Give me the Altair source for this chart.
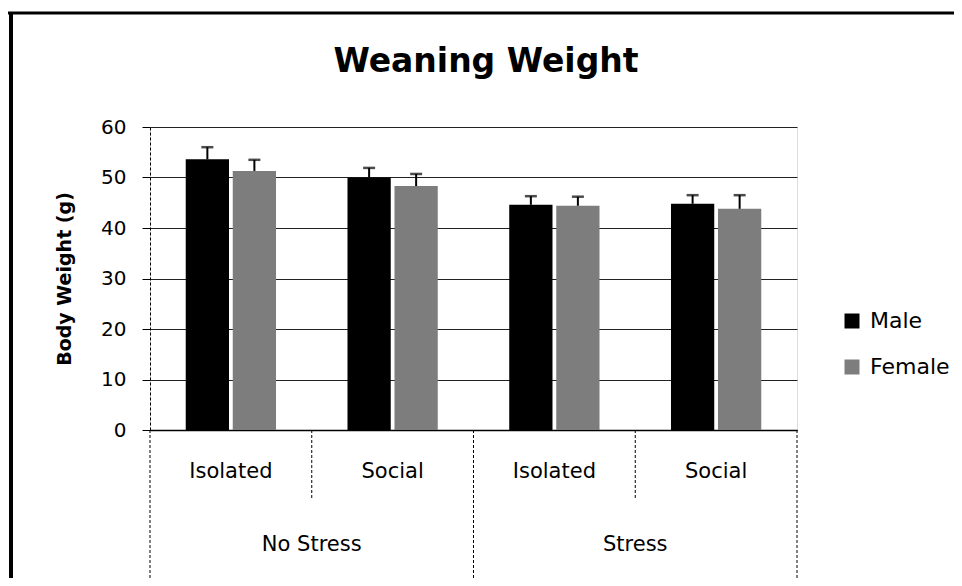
import altair as alt
import pandas as pd

# ---- data ----
stress = ["No Stress", "No Stress", "Stress", "Stress"]
housing = ["Isolated", "Social", "Isolated", "Social"]
male_mean = [53.6, 50.0, 44.6, 44.8]
male_err = [2.4, 1.9, 1.7, 1.7]
female_mean = [51.3, 48.3, 44.4, 43.8]
female_err = [2.2, 2.4, 1.8, 2.7]
sexes = ["Male", "Female"]
y_ticks = [0, 10, 20, 30, 40, 50, 60]
chart_title = ["Weaning Weight"]

conds = [f"{s}|{h}" for s, h in zip(stress, housing)]
rows = []
for i, c in enumerate(conds):
    rows.append({"cond": c, "sex": "Male", "mean": male_mean[i], "upper": male_mean[i] + male_err[i]})
    rows.append({"cond": c, "sex": "Female", "mean": female_mean[i], "upper": female_mean[i] + female_err[i]})
df = pd.DataFrame(rows)
labels_df = pd.DataFrame({"cond": conds, "housing": housing})
stress_df = pd.DataFrame({"cond": [conds[1], conds[3]], "stress": ["No Stress", "Stress"]})
long_df = pd.DataFrame({"cond": [conds[0], conds[2]]})
short_df = pd.DataFrame({"cond": [conds[1], conds[3]]})
end_df = pd.DataFrame({"cond": [conds[3]]})
title_df = pd.DataFrame({"t": chart_title})
dummy = pd.DataFrame({"a": [0]})

FONT = "DejaVu Sans"
W, H = 647, 303

xscale = alt.Scale(domain=conds, paddingInner=0, paddingOuter=0)
xenc = alt.X("cond:N", scale=xscale, axis=alt.Axis(labels=False, ticks=False, title=None,
                                                  domainColor="black", domainWidth=1.5, grid=False))
xoff = alt.XOffset("sex:N", scale=alt.Scale(domain=sexes, paddingInner=0.08, paddingOuter=0.76))
yscale = alt.Scale(domain=[0, 60], nice=False)
yaxis = alt.Axis(values=y_ticks, title="Body Weight (g)", titleFontSize=19, titleFont=FONT,
                 titleFontWeight="bold", titleColor="black", titlePadding=26,
                 labelFontSize=20, labelFont=FONT, labelColor="black", labelPadding=16,
                 tickSize=8, tickColor="black", domainColor="black", domainDash=[3, 2],
                 grid=True, gridColor="#222222", gridWidth=1)

base = alt.Chart(df)
bars = base.mark_bar().encode(
    x=xenc, xOffset=xoff,
    y=alt.Y("mean:Q", scale=yscale, axis=yaxis),
    color=alt.Color("sex:N", scale=alt.Scale(domain=sexes, range=["#000000", "#7d7d7d"]),
                    legend=alt.Legend(title=None, orient="none", legendX=691, legendY=183,
                                      symbolType="square", symbolSize=225, symbolStrokeWidth=0,
                                      labelFontSize=22, labelFont=FONT, labelColor="black",
                                      rowPadding=24, labelOffset=7)),
)
err = base.mark_rule(color="black", strokeWidth=2).encode(
    x="cond:N", xOffset=xoff, y="mean:Q", y2="upper:Q")
caps = base.mark_tick(color="black", orient="horizontal", size=12, thickness=2.5).encode(
    x="cond:N", xOffset=xoff, y="upper:Q")

hous = alt.Chart(labels_df).mark_text(fontSize=21, font=FONT, color="black", baseline="middle").encode(
    x="cond:N", y=alt.value(345), text="housing:N")
strs = alt.Chart(stress_df).mark_text(fontSize=21, font=FONT, color="black", baseline="middle").encode(
    x=alt.X("cond:N", bandPosition=0), y=alt.value(418), text="stress:N")

title = alt.Chart(title_df).mark_text(fontSize=33, font=FONT, fontWeight="bold", color="black",
                                      baseline="alphabetic", align="center").encode(
    x=alt.value(336), y=alt.value(-55), text="t:N")

div_style = dict(color="black", strokeWidth=1, strokeDash=[3, 2])
long_div = alt.Chart(long_df).mark_rule(**div_style).encode(
    x=alt.X("cond:N", bandPosition=0), y=alt.value(H), y2=alt.value(H + 150))
short_div = alt.Chart(short_df).mark_rule(**div_style).encode(
    x=alt.X("cond:N", bandPosition=0), y=alt.value(H), y2=alt.value(H + 68))
end_div = alt.Chart(end_df).mark_rule(**div_style).encode(
    x=alt.X("cond:N", bandPosition=1), y=alt.value(H), y2=alt.value(H + 150))

frame_top = alt.Chart(dummy).mark_rule(color="black", strokeWidth=3).encode(
    x=alt.value(-142), x2=alt.value(812), y=alt.value(-114))
frame_left = alt.Chart(dummy).mark_rule(color="black", strokeWidth=4).encode(
    x=alt.value(-139), y=alt.value(-115), y2=alt.value(460))

chart = alt.layer(
    bars, err, caps, hous, strs, title, long_div, short_div, end_div, frame_top, frame_left
).properties(
    width=W, height=H,
    autosize=alt.AutoSizeParams(type="none"),
    padding={"left": 142, "top": 119, "right": 157, "bottom": 148},
).configure_view(stroke=None).configure(background="white")

chart.save("out.html", embed_options={"renderer": "svg", "actions": False})
